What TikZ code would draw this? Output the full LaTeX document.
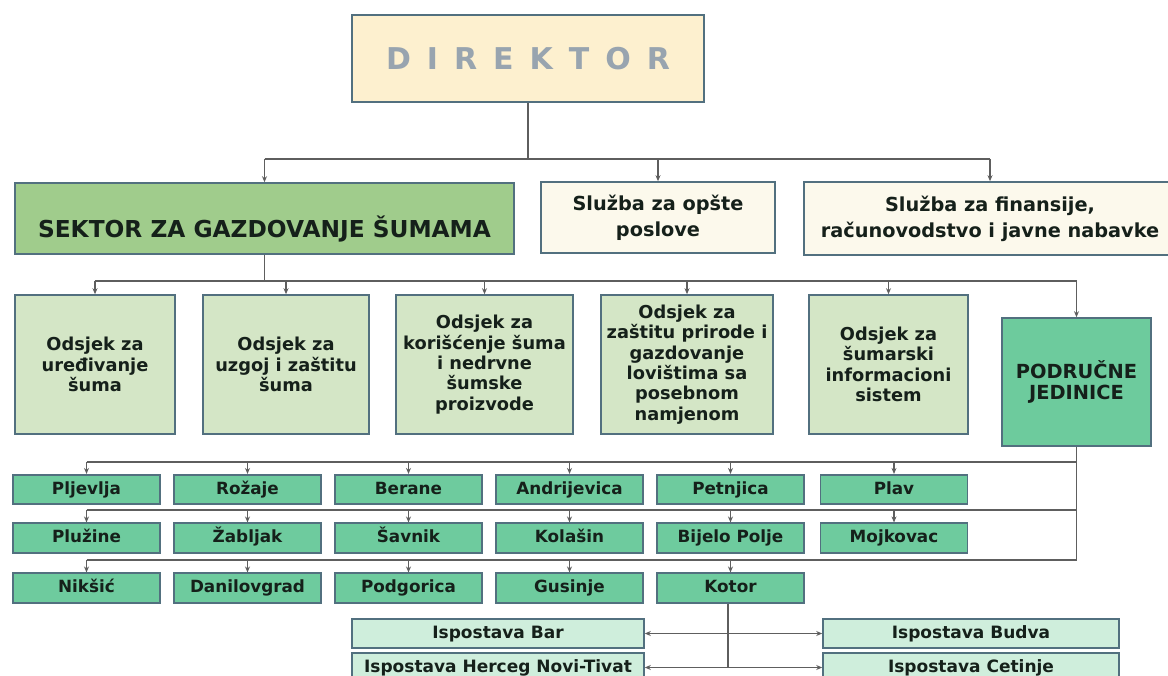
\documentclass[tikz,border=0pt]{standalone}
\usepackage{fontspec}
\setmainfont{DejaVu Sans}
\usetikzlibrary{arrows.meta}
\definecolor{bordc}{HTML}{52707F}
\definecolor{linec}{HTML}{5E5E5E}
\definecolor{txtc}{HTML}{15201A}
\definecolor{dirfill}{HTML}{FDF0CF}
\definecolor{dirtxt}{HTML}{98A4AF}
\definecolor{sekfill}{HTML}{A0CC8C}
\definecolor{slfill}{HTML}{FCF9EC}
\definecolor{odfill}{HTML}{D4E6C6}
\definecolor{pjfill}{HTML}{6DCB9D}
\definecolor{cityfill}{HTML}{6ECB9E}
\definecolor{ispfill}{HTML}{CFEEDC}
\begin{document}
\begin{tikzpicture}[x=1pt,y=-1pt,
  box/.style={draw=bordc, line width=1.6pt, inner sep=0pt, align=center, text=txtc},
  conn/.style={draw=linec, line width=1.1pt},
  arr/.style={conn, -{Stealth[length=6pt,width=5pt]}},
  odbox/.style={box, fill=odfill, minimum height=139, font=\bfseries\fontsize{17.8}{20.3}\selectfont},
  citybox/.style={box, fill=cityfill, minimum width=147, minimum height=29.5, text height=12.5pt, text depth=3.5pt, font=\bfseries\fontsize{16.8}{20}\selectfont},
  ispbox/.style={box, fill=ispfill, minimum height=29, text height=12.5pt, text depth=3.5pt, font=\bfseries\fontsize{17}{20}\selectfont},
  slbox/.style={box, fill=slfill, font=\bfseries\fontsize{19.3}{26}\selectfont}]
\useasboundingbox (0,0) rectangle (1168,676);
\clip (0,0) rectangle (1168,676);
\fill[white] (0,0) rectangle (1168,676);

% top level
\node[box, fill=dirfill, minimum width=352, minimum height=87] (dir) at (528,58.5) {};
\node[text=dirtxt, font=\bfseries\fontsize{30}{34}\selectfont] (dirt) at (dir.center)
  {D\kern16pt I\kern16pt R\kern16pt E\kern16pt K\kern16pt T\kern16pt O\kern16pt R};

\node[box, fill=sekfill, minimum width=499, minimum height=71] (sek) at (264.5,218.5) {};
\node[text=txtc, font=\bfseries\fontsize{23.3}{28}\selectfont] (sekt) at ([yshift=-11pt]sek.center) {SEKTOR ZA GAZDOVANJE ŠUMAMA};

\node[slbox, minimum width=234, minimum height=71] (sl1) at (658,217.5) {Služba za opšte\\poslove};
\node[slbox, minimum width=372, minimum height=73] (sl2) at (990,218.5) {Služba za finansije,\\računovodstvo i javne nabavke};

% odsjeci
\node[odbox, minimum width=160] (o1) at (95,364.5) {Odsjek za\\uređivanje\\šuma};
\node[odbox, minimum width=166] (o2) at (286,364.5) {Odsjek za\\uzgoj i zaštitu\\šuma};
\node[odbox, minimum width=177] (o3) at (484.5,364.5) {Odsjek za\\korišćenje šuma\\i nedrvne\\šumske\\proizvode};
\node[odbox, minimum width=172] (o4) at (687,364.5) {Odsjek za\\zaštitu prirode i\\gazdovanje\\lovištima sa\\posebnom\\namjenom};
\node[odbox, minimum width=159] (o5) at (888.5,364.5) {Odsjek za\\šumarski\\informacioni\\sistem};
\node[box, fill=pjfill, minimum width=149, minimum height=128, font=\bfseries\fontsize{19.4}{20.5}\selectfont] (pj) at (1076.5,382) {PODRUČNE\\JEDINICE};

% cities
\node[citybox] (c11) at (86.5,489.5) {Pljevlja};
\node[citybox] (c12) at (247.5,489.5) {Rožaje};
\node[citybox] (c13) at (408.5,489.5) {Berane};
\node[citybox] (c14) at (569.5,489.5) {Andrijevica};
\node[citybox] (c15) at (730.5,489.5) {Petnjica};
\node[citybox] (c16) at (894,489.5) {Plav};
\node[citybox] (c21) at (86.5,538) {Plužine};
\node[citybox] (c22) at (247.5,538) {Žabljak};
\node[citybox] (c23) at (408.5,538) {Šavnik};
\node[citybox] (c24) at (569.5,538) {Kolašin};
\node[citybox] (c25) at (730.5,538) {Bijelo Polje};
\node[citybox] (c26) at (894,538) {Mojkovac};
\node[citybox] (c31) at (86.5,588) {Nikšić};
\node[citybox] (c32) at (247.5,588) {Danilovgrad};
\node[citybox] (c33) at (408.5,588) {Podgorica};
\node[citybox] (c34) at (569.5,588) {Gusinje};
\node[citybox] (c35) at (730.5,588) {Kotor};

% ispostave
\node[ispbox, minimum width=292] (bar) at (498,633.5) {Ispostava Bar};
\node[ispbox, minimum width=292] (hn) at (498,667.5) {Ispostava Herceg Novi-Tivat};
\node[ispbox, minimum width=296] (bud) at (971,633.5) {Ispostava Budva};
\node[ispbox, minimum width=296] (cet) at (971,667.5) {Ispostava Cetinje};

% connectors: director level
\coordinate (b1) at (528,159);
\draw[conn] (dir.south) -- (b1);
\draw[conn] (sek.north |- b1) -- (sl2.north |- b1);
\draw[arr] (sek.north |- b1) -- (sek.north);
\draw[arr] (sl1.north |- b1) -- (sl1.north);
\draw[arr] (sl2.north |- b1) -- (sl2.north);

% sektor level
\coordinate (b2) at (264.5,281);
\draw[conn] (sek.south) -- (b2);
\draw[conn] (o1.north |- b2) -- (pj.north |- b2);
\foreach \n in {o1,o2,o3,o4,o5,pj} \draw[arr] (\n.north |- b2) -- (\n.north);

% city rows
\coordinate (r1) at (1076.5,462);
\coordinate (r2) at (1076.5,510);
\coordinate (r3) at (1076.5,560);
\draw[conn] (pj.south) -- (r3);
\draw[conn] (c11.north |- r1) -- (r1);
\draw[conn] (c21.north |- r2) -- (r2);
\draw[conn] (c31.north |- r3) -- (r3);
\foreach \n in {c11,c12,c13,c14,c15,c16} \draw[arr] (\n.north |- r1) -- (\n.north);
\foreach \n in {c21,c22,c23,c24,c25,c26} \draw[arr] (\n.north |- r2) -- (\n.north);
\foreach \n in {c31,c32,c33,c34,c35} \draw[arr] (\n.north |- r3) -- (\n.north);

% kotor ispostave
\coordinate (k1) at ([xshift=-2.5pt]c35.south |- bar.east);
\coordinate (k2) at ([xshift=-2.5pt]c35.south |- hn.east);
\draw[conn] ([xshift=-2.5pt]c35.south) -- (k2);
\draw[arr] (k1) -- (bar.east);
\draw[arr] (k1) -- (bud.west);
\draw[arr] (k2) -- (hn.east);
\draw[arr] (k2) -- (cet.west);
\end{tikzpicture}
\end{document}
